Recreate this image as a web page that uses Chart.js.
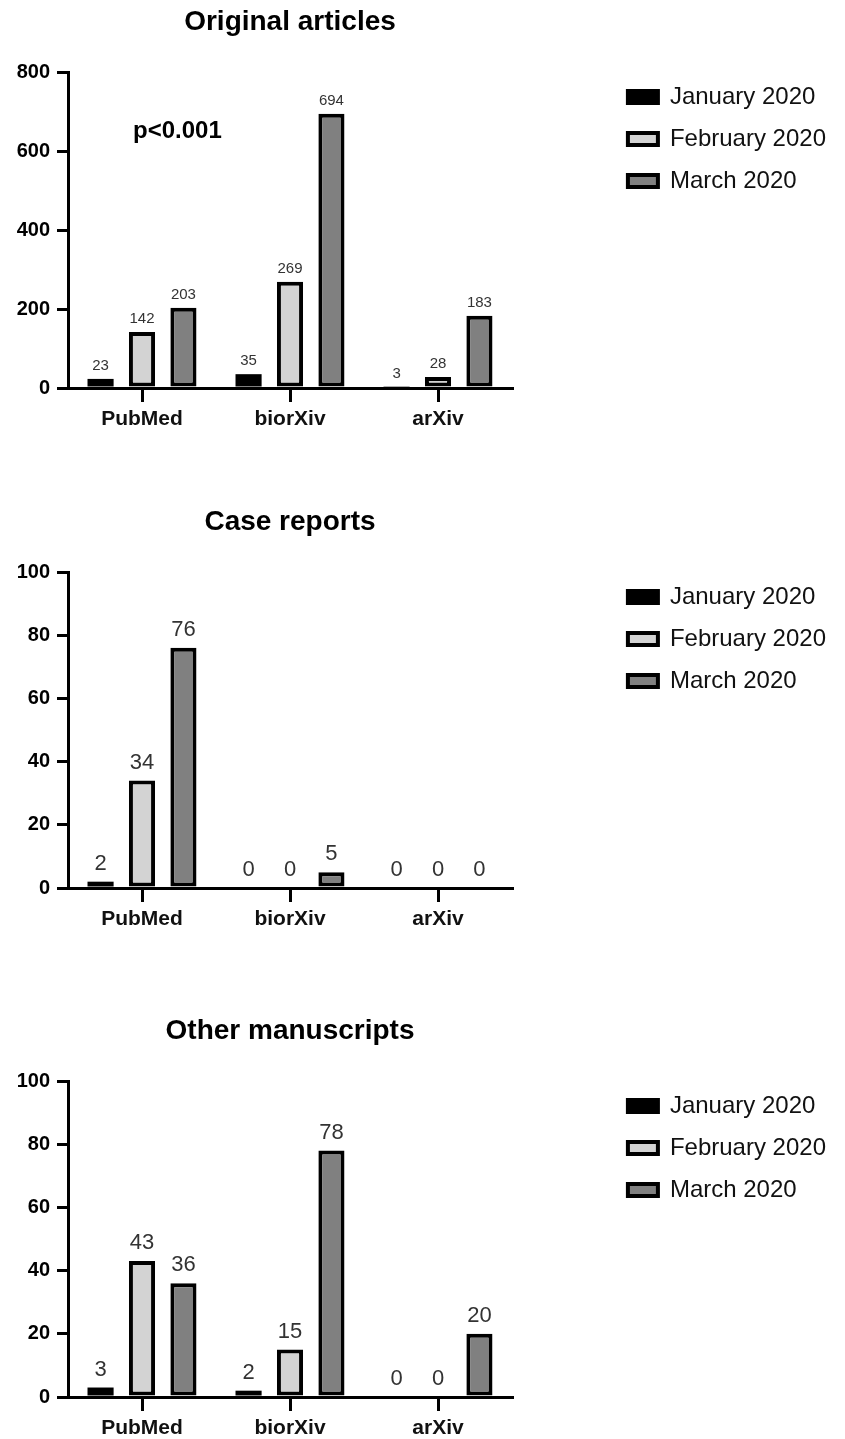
<!DOCTYPE html>
<html>
<head>
<meta charset="utf-8">
<script src="https://cdn.jsdelivr.net/npm/chart.js@4.4.1/dist/chart.umd.min.js"></script>
<style>
  html, body { margin: 0; padding: 0; background: #fff; overflow: hidden; }
  canvas { position: absolute; left: 0; }
</style>
</head>
<body>
<canvas id="original" width="845" height="430" style="top:0px"></canvas>
<canvas id="cases" width="845" height="430" style="top:500px"></canvas>
<canvas id="other" width="845" height="430" style="top:1009px"></canvas>
<script>
const sources = ['PubMed', 'biorXiv', 'arXiv'];
const months = ['January 2020', 'February 2020', 'March 2020'];

// Original articles
const originalJan = [23, 35, 3];
const originalFeb = [142, 269, 28];
const originalMar = [203, 694, 183];
const originalTicks = [0, 200, 400, 600, 800];

// Case reports
const casesJan = [2, 0, 0];
const casesFeb = [34, 0, 0];
const casesMar = [76, 5, 0];
const casesTicks = [0, 20, 40, 60, 80, 100];

// Other manuscripts
const otherJan = [3, 2, 0];
const otherFeb = [43, 15, 0];
const otherMar = [36, 78, 20];
const otherTicks = [0, 20, 40, 60, 80, 100];

const fills = ['#000000', '#d3d3d3', '#808080'];
const PAD_RIGHT = 9;
const AREA_RIGHT = 512;

Chart.defaults.font.family = 'Arial, "Liberation Sans", sans-serif';

// value labels above each bar
const barLabels = {
  id: 'barLabels',
  afterDatasetsDraw(chart, args, opts) {
    const ctx = chart.ctx;
    ctx.save();
    ctx.font = opts.size + 'px Arial, "Liberation Sans", sans-serif';
    ctx.fillStyle = '#333';
    ctx.textAlign = 'center';
    ctx.textBaseline = 'alphabetic';
    chart.data.datasets.forEach((ds, i) => {
      chart.getDatasetMeta(i).data.forEach((bar, j) => {
        ctx.fillText(String(ds.data[j]), bar.x, bar.y - opts.gap);
      });
    });
    ctx.restore();
  }
};

// p value note
const pNote = {
  id: 'pNote',
  afterDatasetsDraw(chart, args, opts) {
    if (!opts || !opts.text) return;
    const ctx = chart.ctx;
    const x = chart.scales.x.getPixelForValue(0) - 9;
    const y = chart.scales.y.getPixelForValue(opts.at);
    ctx.save();
    ctx.font = 'bold 24px Arial, "Liberation Sans", sans-serif';
    ctx.fillStyle = '#000';
    ctx.textAlign = 'left';
    ctx.textBaseline = 'middle';
    ctx.fillText(opts.text, x, y);
    ctx.restore();
  }
};

function makeChart(id, title, jan, feb, mar, tickVals, labelSize, labelGap, note) {
  const series = [jan, feb, mar];
  new Chart(document.getElementById(id), {
    type: 'bar',
    data: {
      labels: sources,
      datasets: series.map((vals, i) => ({
        label: months[i],
        data: vals,
        yAxisID: 'y',
        backgroundColor: fills[i],
        borderColor: '#000',
        // black bars need no outline (avoids a seam between fill and border)
        borderWidth: i === 0 ? 0 : 4,
        borderSkipped: false,
        barPercentage: 0.63,
        categoryPercentage: 0.84
      }))
    },
    options: {
      responsive: false,
      animation: false,
      layout: { padding: { left: 0, top: 0, bottom: 0, right: PAD_RIGHT } },
      scales: {
        x: {
          type: 'category',
          afterFit(s) { s.height = 42; },
          grid: { offset: false, drawOnChartArea: false, tickLength: 14, color: '#000', lineWidth: 3 },
          border: { color: '#000', width: 3 },
          ticks: { color: '#111', font: { size: 21, weight: 'bold' }, padding: 5 }
        },
        y: {
          type: 'linear',
          position: 'left',
          min: 0,
          max: tickVals[tickVals.length - 1],
          afterBuildTicks(s) { s.ticks = tickVals.map(v => ({ value: v })); },
          afterFit(s) { s.width = 68; },
          grid: { drawOnChartArea: false, tickLength: 11, color: '#000', lineWidth: 3 },
          border: { color: '#000', width: 3 },
          ticks: { color: '#000', font: { size: 20, weight: 'bold' }, padding: 7 }
        },
        gap: {
          type: 'linear',
          position: 'right',
          display: true,
          grid: { display: false },
          border: { display: false },
          ticks: { display: false },
          afterFit(s) {
            s.width = Math.max(0, s.chart.width - PAD_RIGHT - s.chart.legend.width - AREA_RIGHT);
          }
        }
      },
      plugins: {
        title: {
          display: true,
          text: title,
          fullSize: false,
          color: '#000',
          font: { size: 28, weight: 'bold' },
          padding: { top: 5, bottom: 33.4 }
        },
        legend: {
          position: 'right',
          align: 'start',
          fullSize: true,
          maxWidth: 300,
          title: { display: true, text: '', font: { size: 10 }, padding: { top: 55, bottom: 0 } },
          labels: {
            boxWidth: 30, boxHeight: 12, padding: 18, color: '#111', font: { size: 24 },
            generateLabels(chart) {
              return Chart.defaults.plugins.legend.labels.generateLabels(chart)
                .map(item => Object.assign(item, { lineWidth: 4, strokeStyle: '#000' }));
            }
          }
        },
        tooltip: { enabled: false },
        barLabels: { size: labelSize, gap: labelGap },
        pNote: note || {}
      }
    },
    plugins: [barLabels, pNote]
  });
}

makeChart('original', 'Original articles', originalJan, originalFeb, originalMar, originalTicks, 15, 9,
  { text: 'p<0.001', at: 650 });
makeChart('cases', 'Case reports', casesJan, casesFeb, casesMar, casesTicks, 22, 12);
makeChart('other', 'Other manuscripts', otherJan, otherFeb, otherMar, otherTicks, 22, 12);
</script>
</body>
</html>
